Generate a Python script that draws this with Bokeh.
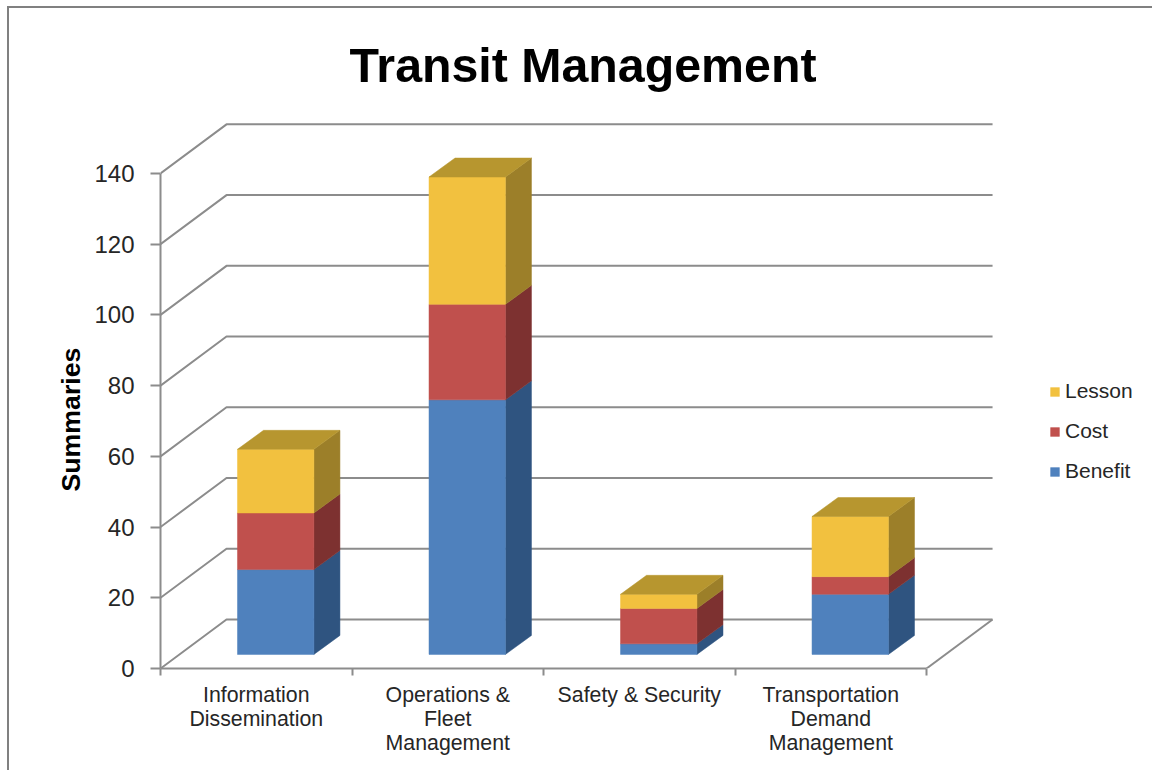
from bokeh.plotting import figure
from bokeh.embed import file_html
from bokeh.resources import INLINE
from bokeh.models import FixedTicker, Range1d, Legend, LegendItem, Title

categories = ["Information\nDissemination", "Operations &\nFleet\nManagement", "Safety & Security", "Transportation\nDemand\nManagement"]
benefit = [24, 72, 3, 17]
cost = [16, 27, 10, 5]
lesson = [18, 36, 4, 17]
y_ticks = [0, 20, 40, 60, 80, 100, 120, 140]

series = [("Benefit", benefit, "#4F81BD", "#2F5480"),
          ("Cost", cost, "#C0504D", "#7D3130"),
          ("Lesson", lesson, "#F2C13F", "#9C7F29")]
top_color = "#B7962F"
grid_color = "#8C8C8C"

# depth of the 3-D box, in data units
wall_dx, wall_dy = 0.3446, 13.87
bar_dx, bar_dy = 0.136, 5.37
bar_left, bar_w, bar_base = 0.402, 0.399, 3.98
n = len(categories)

p = figure(width=1143, height=764, frame_width=835, frame_height=546,
           output_backend="svg", toolbar_location=None,
           x_range=Range1d(0, 4.36), y_range=Range1d(0, 154.4),
           min_border_left=151, min_border_right=157, min_border_top=114, min_border_bottom=104,
           outline_line_color=None, title="Transit Management")
p.styles = {"transform": "translate(9px,8px)", "box-shadow": "-2px -2px 0 0 #808080"}
p.grid.visible = False

p.title.align = "left"
p.title.offset = 189
p.title.vertical_align = "top"
p.title.standoff = 57
p.title.text_font = "Liberation Sans"
p.title.text_font_size = "48.3px"
p.title.text_font_style = "bold"
p.title.text_color = "#000000"

# walls and floor
p.multi_line([[0, wall_dx, n + wall_dx] for _ in y_ticks],
             [[v, v + wall_dy, v + wall_dy] for v in y_ticks],
             line_color=grid_color, line_width=2)
p.line([n, n + wall_dx], [0, wall_dy], line_color=grid_color, line_width=2)

# bars
bottoms = [0] * n
items = []
for name, vals, front, side in series:
    lefts = [i + bar_left for i in range(n)]
    rights = [x + bar_w for x in lefts]
    b = [bar_base + v for v in bottoms]
    t = [y + v for y, v in zip(b, vals)]
    p.patches([[r, r + bar_dx, r + bar_dx, r] for r in rights],
              [[y0, y0 + bar_dy, y1 + bar_dy, y1] for y0, y1 in zip(b, t)],
              fill_color=side, line_color=side, line_width=0.5)
    q = p.quad(left=lefts, right=rights, bottom=b, top=t, fill_color=front, line_color=front,
               line_width=0.5)
    items.insert(0, LegendItem(label=name, renderers=[q]))
    if name == "Lesson":
        p.patches([[l, l + bar_dx, r + bar_dx, r] for l, r in zip(lefts, rights)],
                  [[y, y + bar_dy, y + bar_dy, y] for y in t],
                  fill_color=top_color, line_color=top_color, line_width=0.5)
    bottoms = [a + c for a, c in zip(bottoms, vals)]

# axes
ya = p.yaxis[0]
ya.ticker = FixedTicker(ticks=y_ticks)
ya.bounds = (0, 140)
ya.axis_line_color = grid_color
ya.axis_line_width = 2
ya.major_tick_line_color = grid_color
ya.major_tick_line_width = 2
ya.major_tick_out = 10
ya.major_tick_in = 0
ya.minor_tick_line_color = None
ya.major_label_text_font = "Liberation Sans"
ya.major_label_text_font_size = "24px"
ya.major_label_text_color = "#262626"
ya.major_label_standoff = 16

ylabel = Title(text="Summaries", align="left", offset=177, standoff=12,
               text_font="Liberation Sans", text_font_size="26.7px", text_font_style="bold",
               text_color="#000000")
p.add_layout(ylabel, "left")

xa = p.xaxis[0]
mids = [i + 0.5 for i in range(n)]
xa.ticker = FixedTicker(ticks=mids, minor_ticks=list(range(n + 1)))
xa.major_label_overrides = {m: c for m, c in zip(mids, categories)}
xa.bounds = (0, n)
xa.axis_line_color = grid_color
xa.axis_line_width = 2
xa.major_tick_line_color = None
xa.major_tick_out = 7
xa.minor_tick_line_color = grid_color
xa.minor_tick_line_width = 2
xa.minor_tick_out = 7
xa.minor_tick_in = 0
xa.major_label_text_font = "Liberation Sans"
xa.major_label_text_font_size = "21.3px"
xa.major_label_text_color = "#262626"
xa.major_label_text_line_height = 1.0
xa.major_label_standoff = 7

# legend
lg = Legend(items=items, location=(54, 185), border_line_color=None, background_fill_alpha=0,
            padding=0, margin=0, spacing=16, glyph_width=11, glyph_height=11, label_standoff=5,
            label_text_font="Liberation Sans", label_text_font_size="21px", label_text_color="#262626")
p.add_layout(lg, "right")

open("out.html", "w").write(file_html(p, INLINE))
